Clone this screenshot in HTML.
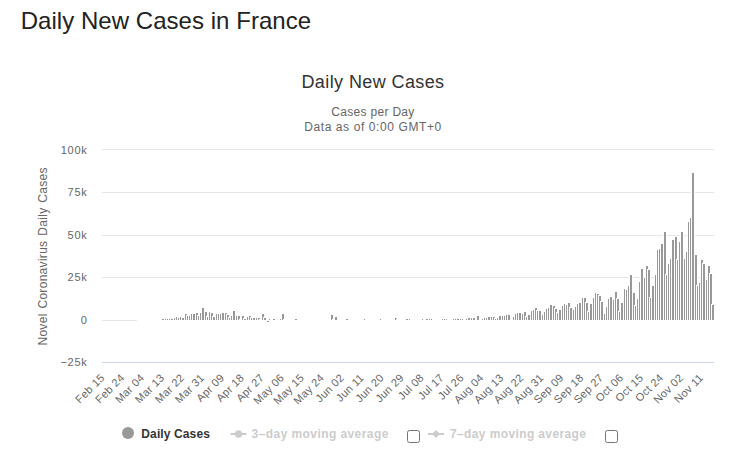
<!DOCTYPE html>
<html><head><meta charset="utf-8"><style>
html,body{margin:0;padding:0;background:#fff;width:740px;height:476px;overflow:hidden}
svg{position:absolute;left:0;top:0}
text{font-family:"Liberation Sans",sans-serif}
</style></head><body>
<svg width="740" height="476" viewBox="0 0 740 476">
<text x="20.7" y="28.9" font-size="24" fill="#222" letter-spacing="0.04">Daily New Cases in France</text>
<text x="373" y="87.7" font-size="18" fill="#333" text-anchor="middle" letter-spacing="0.4">Daily New Cases</text>
<text x="373" y="116.2" font-size="12" fill="#666" text-anchor="middle" letter-spacing="0.3">Cases per Day</text>
<text x="373" y="130.5" font-size="12" fill="#666" text-anchor="middle" letter-spacing="0.6">Data as of 0:00 GMT+0</text>
<g shape-rendering="crispEdges">
<rect x="102" y="149" width="612" height="1" fill="#e6e6e6"/><rect x="102" y="192" width="612" height="1" fill="#e6e6e6"/><rect x="102" y="235" width="612" height="1" fill="#e6e6e6"/><rect x="102" y="277" width="612" height="1" fill="#e6e6e6"/><rect x="102" y="320" width="612" height="1" fill="#e6e6e6"/><rect x="102" y="362" width="612" height="1" fill="#ccd6eb"/>
<rect x="137" y="319" width="4" height="2" fill="#fff"/><rect x="139" y="319" width="4" height="2" fill="#fff"/><rect x="141" y="319" width="4" height="2" fill="#fff"/><rect x="144" y="319" width="4" height="2" fill="#fff"/><rect x="146" y="319" width="4" height="2" fill="#fff"/><rect x="148" y="319" width="4" height="2" fill="#fff"/><rect x="150" y="319" width="4" height="2" fill="#fff"/><rect x="153" y="319" width="4" height="2" fill="#fff"/><rect x="155" y="319" width="4" height="2" fill="#fff"/><rect x="157" y="319" width="4" height="2" fill="#fff"/><rect x="159" y="319" width="4" height="2" fill="#fff"/><rect x="161" y="318" width="4" height="3" fill="#fff"/><rect x="162" y="319" width="2" height="1" fill="#999999"/><rect x="164" y="318" width="4" height="3" fill="#fff"/><rect x="165" y="319" width="2" height="1" fill="#999999"/><rect x="166" y="318" width="4" height="3" fill="#fff"/><rect x="167" y="319" width="2" height="1" fill="#999999"/><rect x="168" y="318" width="4" height="3" fill="#fff"/><rect x="169" y="319" width="2" height="1" fill="#999999"/><rect x="170" y="318" width="4" height="3" fill="#fff"/><rect x="171" y="319" width="2" height="1" fill="#999999"/><rect x="173" y="317" width="4" height="4" fill="#fff"/><rect x="174" y="318" width="2" height="2" fill="#999999"/><rect x="175" y="316" width="4" height="5" fill="#fff"/><rect x="176" y="317" width="2" height="3" fill="#999999"/><rect x="177" y="317" width="4" height="4" fill="#fff"/><rect x="178" y="318" width="2" height="2" fill="#999999"/><rect x="179" y="316" width="4" height="5" fill="#fff"/><rect x="180" y="317" width="2" height="3" fill="#999999"/><rect x="181" y="317" width="4" height="4" fill="#fff"/><rect x="182" y="318" width="2" height="2" fill="#999999"/><rect x="184" y="313" width="4" height="8" fill="#fff"/><rect x="185" y="314" width="2" height="6" fill="#999999"/><rect x="186" y="315" width="4" height="6" fill="#fff"/><rect x="187" y="316" width="2" height="4" fill="#999999"/><rect x="188" y="315" width="4" height="6" fill="#fff"/><rect x="189" y="316" width="2" height="4" fill="#999999"/><rect x="190" y="313" width="4" height="8" fill="#fff"/><rect x="191" y="314" width="2" height="6" fill="#999999"/><rect x="192" y="313" width="4" height="8" fill="#fff"/><rect x="193" y="314" width="2" height="6" fill="#999999"/><rect x="195" y="312" width="4" height="9" fill="#fff"/><rect x="196" y="313" width="2" height="7" fill="#999999"/><rect x="197" y="315" width="4" height="6" fill="#fff"/><rect x="198" y="316" width="2" height="4" fill="#999999"/><rect x="199" y="312" width="4" height="9" fill="#fff"/><rect x="200" y="313" width="2" height="7" fill="#999999"/><rect x="201" y="307" width="4" height="14" fill="#fff"/><rect x="202" y="308" width="2" height="12" fill="#999999"/><rect x="204" y="311" width="4" height="10" fill="#fff"/><rect x="205" y="312" width="2" height="8" fill="#999999"/><rect x="206" y="316" width="4" height="5" fill="#fff"/><rect x="207" y="317" width="2" height="3" fill="#999999"/><rect x="208" y="311" width="4" height="10" fill="#fff"/><rect x="209" y="312" width="2" height="8" fill="#999999"/><rect x="210" y="312" width="4" height="9" fill="#fff"/><rect x="211" y="313" width="2" height="7" fill="#999999"/><rect x="212" y="316" width="4" height="5" fill="#fff"/><rect x="213" y="317" width="2" height="3" fill="#999999"/><rect x="215" y="313" width="4" height="8" fill="#fff"/><rect x="216" y="314" width="2" height="6" fill="#999999"/><rect x="217" y="313" width="4" height="8" fill="#fff"/><rect x="218" y="314" width="2" height="6" fill="#999999"/><rect x="219" y="313" width="4" height="8" fill="#fff"/><rect x="220" y="314" width="2" height="6" fill="#999999"/><rect x="221" y="312" width="4" height="9" fill="#fff"/><rect x="222" y="313" width="2" height="7" fill="#999999"/><rect x="224" y="312" width="4" height="9" fill="#fff"/><rect x="225" y="313" width="2" height="7" fill="#999999"/><rect x="226" y="314" width="4" height="7" fill="#fff"/><rect x="227" y="315" width="2" height="5" fill="#999999"/><rect x="228" y="317" width="4" height="4" fill="#fff"/><rect x="229" y="318" width="2" height="2" fill="#999999"/><rect x="230" y="315" width="4" height="6" fill="#fff"/><rect x="231" y="316" width="2" height="4" fill="#999999"/><rect x="232" y="310" width="4" height="11" fill="#fff"/><rect x="233" y="311" width="2" height="9" fill="#999999"/><rect x="235" y="315" width="4" height="6" fill="#fff"/><rect x="236" y="316" width="2" height="4" fill="#999999"/><rect x="237" y="315" width="4" height="6" fill="#fff"/><rect x="238" y="316" width="2" height="4" fill="#999999"/><rect x="239" y="319" width="4" height="2" fill="#fff"/><rect x="241" y="315" width="4" height="6" fill="#fff"/><rect x="242" y="316" width="2" height="4" fill="#999999"/><rect x="243" y="318" width="4" height="3" fill="#fff"/><rect x="244" y="319" width="2" height="1" fill="#999999"/><rect x="246" y="316" width="4" height="5" fill="#fff"/><rect x="247" y="317" width="2" height="3" fill="#999999"/><rect x="248" y="315" width="4" height="6" fill="#fff"/><rect x="249" y="316" width="2" height="4" fill="#999999"/><rect x="250" y="317" width="4" height="4" fill="#fff"/><rect x="251" y="318" width="2" height="2" fill="#999999"/><rect x="252" y="317" width="4" height="4" fill="#fff"/><rect x="253" y="318" width="2" height="2" fill="#999999"/><rect x="255" y="317" width="4" height="4" fill="#fff"/><rect x="256" y="318" width="2" height="2" fill="#999999"/><rect x="257" y="317" width="4" height="4" fill="#fff"/><rect x="258" y="318" width="2" height="2" fill="#999999"/><rect x="259" y="319" width="4" height="2" fill="#fff"/><rect x="261" y="313" width="4" height="8" fill="#fff"/><rect x="262" y="314" width="2" height="6" fill="#999999"/><rect x="263" y="317" width="4" height="4" fill="#fff"/><rect x="264" y="318" width="2" height="2" fill="#999999"/><rect x="266" y="320" width="4" height="3" fill="#fff"/><rect x="267" y="321" width="2" height="1" fill="#999999"/><rect x="268" y="318" width="4" height="3" fill="#fff"/><rect x="269" y="319" width="2" height="1" fill="#999999"/><rect x="270" y="319" width="4" height="2" fill="#fff"/><rect x="272" y="318" width="4" height="3" fill="#fff"/><rect x="273" y="319" width="2" height="1" fill="#999999"/><rect x="275" y="319" width="4" height="2" fill="#fff"/><rect x="277" y="319" width="4" height="2" fill="#fff"/><rect x="279" y="318" width="4" height="3" fill="#fff"/><rect x="280" y="319" width="2" height="1" fill="#999999"/><rect x="281" y="313" width="4" height="8" fill="#fff"/><rect x="282" y="314" width="2" height="6" fill="#999999"/><rect x="283" y="319" width="4" height="2" fill="#fff"/><rect x="286" y="319" width="4" height="2" fill="#fff"/><rect x="288" y="319" width="4" height="2" fill="#fff"/><rect x="290" y="319" width="4" height="2" fill="#fff"/><rect x="292" y="319" width="4" height="2" fill="#fff"/><rect x="294" y="318" width="4" height="3" fill="#fff"/><rect x="295" y="319" width="2" height="1" fill="#999999"/><rect x="297" y="319" width="4" height="2" fill="#fff"/><rect x="299" y="319" width="4" height="2" fill="#fff"/><rect x="301" y="319" width="4" height="2" fill="#fff"/><rect x="303" y="319" width="4" height="2" fill="#fff"/><rect x="306" y="319" width="4" height="2" fill="#fff"/><rect x="308" y="319" width="4" height="2" fill="#fff"/><rect x="310" y="319" width="4" height="2" fill="#fff"/><rect x="312" y="319" width="4" height="2" fill="#fff"/><rect x="314" y="319" width="4" height="2" fill="#fff"/><rect x="317" y="319" width="4" height="2" fill="#fff"/><rect x="319" y="319" width="4" height="2" fill="#fff"/><rect x="321" y="319" width="4" height="2" fill="#fff"/><rect x="323" y="319" width="4" height="2" fill="#fff"/><rect x="326" y="319" width="4" height="2" fill="#fff"/><rect x="328" y="319" width="4" height="2" fill="#fff"/><rect x="330" y="314" width="4" height="7" fill="#fff"/><rect x="331" y="315" width="2" height="5" fill="#999999"/><rect x="332" y="319" width="4" height="2" fill="#fff"/><rect x="334" y="316" width="4" height="5" fill="#fff"/><rect x="335" y="317" width="2" height="3" fill="#999999"/><rect x="337" y="319" width="4" height="2" fill="#fff"/><rect x="339" y="319" width="4" height="2" fill="#fff"/><rect x="341" y="319" width="4" height="2" fill="#fff"/><rect x="343" y="319" width="4" height="2" fill="#fff"/><rect x="345" y="318" width="4" height="3" fill="#fff"/><rect x="346" y="319" width="2" height="1" fill="#999999"/><rect x="348" y="319" width="4" height="2" fill="#fff"/><rect x="350" y="319" width="4" height="2" fill="#fff"/><rect x="352" y="319" width="4" height="2" fill="#fff"/><rect x="354" y="319" width="4" height="2" fill="#fff"/><rect x="357" y="319" width="4" height="2" fill="#fff"/><rect x="359" y="319" width="4" height="2" fill="#fff"/><rect x="361" y="319" width="4" height="2" fill="#fff"/><rect x="363" y="318" width="4" height="3" fill="#fff"/><rect x="364" y="319" width="2" height="1" fill="#999999"/><rect x="365" y="319" width="4" height="2" fill="#fff"/><rect x="368" y="319" width="4" height="2" fill="#fff"/><rect x="370" y="319" width="4" height="2" fill="#fff"/><rect x="372" y="319" width="4" height="2" fill="#fff"/><rect x="374" y="319" width="4" height="2" fill="#fff"/><rect x="377" y="319" width="4" height="2" fill="#fff"/><rect x="379" y="318" width="4" height="3" fill="#fff"/><rect x="380" y="319" width="2" height="1" fill="#999999"/><rect x="381" y="319" width="4" height="2" fill="#fff"/><rect x="383" y="319" width="4" height="2" fill="#fff"/><rect x="385" y="319" width="4" height="2" fill="#fff"/><rect x="388" y="319" width="4" height="2" fill="#fff"/><rect x="390" y="319" width="4" height="2" fill="#fff"/><rect x="392" y="319" width="4" height="2" fill="#fff"/><rect x="394" y="317" width="4" height="4" fill="#fff"/><rect x="395" y="318" width="2" height="2" fill="#999999"/><rect x="396" y="319" width="4" height="2" fill="#fff"/><rect x="399" y="319" width="4" height="2" fill="#fff"/><rect x="401" y="319" width="4" height="2" fill="#fff"/><rect x="403" y="319" width="4" height="2" fill="#fff"/><rect x="405" y="318" width="4" height="3" fill="#fff"/><rect x="406" y="319" width="2" height="1" fill="#999999"/><rect x="408" y="318" width="4" height="3" fill="#fff"/><rect x="409" y="319" width="2" height="1" fill="#999999"/><rect x="410" y="319" width="4" height="2" fill="#fff"/><rect x="412" y="319" width="4" height="2" fill="#fff"/><rect x="414" y="319" width="4" height="2" fill="#fff"/><rect x="416" y="319" width="4" height="2" fill="#fff"/><rect x="419" y="319" width="4" height="2" fill="#fff"/><rect x="421" y="318" width="4" height="3" fill="#fff"/><rect x="422" y="319" width="2" height="1" fill="#999999"/><rect x="423" y="319" width="4" height="2" fill="#fff"/><rect x="425" y="318" width="4" height="3" fill="#fff"/><rect x="426" y="319" width="2" height="1" fill="#999999"/><rect x="428" y="318" width="4" height="3" fill="#fff"/><rect x="429" y="319" width="2" height="1" fill="#999999"/><rect x="430" y="318" width="4" height="3" fill="#fff"/><rect x="431" y="319" width="2" height="1" fill="#999999"/><rect x="432" y="319" width="4" height="2" fill="#fff"/><rect x="434" y="319" width="4" height="2" fill="#fff"/><rect x="436" y="319" width="4" height="2" fill="#fff"/><rect x="439" y="319" width="4" height="2" fill="#fff"/><rect x="441" y="318" width="4" height="3" fill="#fff"/><rect x="442" y="319" width="2" height="1" fill="#999999"/><rect x="443" y="318" width="4" height="3" fill="#fff"/><rect x="444" y="319" width="2" height="1" fill="#999999"/><rect x="445" y="318" width="4" height="3" fill="#fff"/><rect x="446" y="319" width="2" height="1" fill="#999999"/><rect x="447" y="319" width="4" height="2" fill="#fff"/><rect x="450" y="319" width="4" height="2" fill="#fff"/><rect x="452" y="318" width="4" height="3" fill="#fff"/><rect x="453" y="319" width="2" height="1" fill="#999999"/><rect x="454" y="318" width="4" height="3" fill="#fff"/><rect x="455" y="319" width="2" height="1" fill="#999999"/><rect x="456" y="318" width="4" height="3" fill="#fff"/><rect x="457" y="319" width="2" height="1" fill="#999999"/><rect x="459" y="318" width="4" height="3" fill="#fff"/><rect x="460" y="319" width="2" height="1" fill="#999999"/><rect x="461" y="318" width="4" height="3" fill="#fff"/><rect x="462" y="319" width="2" height="1" fill="#999999"/><rect x="463" y="319" width="4" height="2" fill="#fff"/><rect x="465" y="318" width="4" height="3" fill="#fff"/><rect x="466" y="319" width="2" height="1" fill="#999999"/><rect x="467" y="317" width="4" height="4" fill="#fff"/><rect x="468" y="318" width="2" height="2" fill="#999999"/><rect x="470" y="317" width="4" height="4" fill="#fff"/><rect x="471" y="318" width="2" height="2" fill="#999999"/><rect x="472" y="317" width="4" height="4" fill="#fff"/><rect x="473" y="318" width="2" height="2" fill="#999999"/><rect x="476" y="315" width="4" height="6" fill="#fff"/><rect x="477" y="316" width="2" height="4" fill="#999999"/><rect x="479" y="319" width="4" height="2" fill="#fff"/><rect x="481" y="318" width="4" height="3" fill="#fff"/><rect x="482" y="319" width="2" height="1" fill="#999999"/><rect x="483" y="317" width="4" height="4" fill="#fff"/><rect x="484" y="318" width="2" height="2" fill="#999999"/><rect x="485" y="317" width="4" height="4" fill="#fff"/><rect x="486" y="318" width="2" height="2" fill="#999999"/><rect x="487" y="316" width="4" height="5" fill="#fff"/><rect x="488" y="317" width="2" height="3" fill="#999999"/><rect x="490" y="316" width="4" height="5" fill="#fff"/><rect x="491" y="317" width="2" height="3" fill="#999999"/><rect x="492" y="316" width="4" height="5" fill="#fff"/><rect x="493" y="317" width="2" height="3" fill="#999999"/><rect x="494" y="318" width="4" height="3" fill="#fff"/><rect x="495" y="319" width="2" height="1" fill="#999999"/><rect x="496" y="317" width="4" height="4" fill="#fff"/><rect x="497" y="318" width="2" height="2" fill="#999999"/><rect x="498" y="315" width="4" height="6" fill="#fff"/><rect x="499" y="316" width="2" height="4" fill="#999999"/><rect x="501" y="315" width="4" height="6" fill="#fff"/><rect x="502" y="316" width="2" height="4" fill="#999999"/><rect x="503" y="315" width="4" height="6" fill="#fff"/><rect x="504" y="316" width="2" height="4" fill="#999999"/><rect x="505" y="314" width="4" height="7" fill="#fff"/><rect x="506" y="315" width="2" height="5" fill="#999999"/><rect x="507" y="314" width="4" height="7" fill="#fff"/><rect x="508" y="315" width="2" height="5" fill="#999999"/><rect x="510" y="319" width="4" height="2" fill="#fff"/><rect x="512" y="316" width="4" height="5" fill="#fff"/><rect x="513" y="317" width="2" height="3" fill="#999999"/><rect x="514" y="313" width="4" height="8" fill="#fff"/><rect x="515" y="314" width="2" height="6" fill="#999999"/><rect x="516" y="312" width="4" height="9" fill="#fff"/><rect x="517" y="313" width="2" height="7" fill="#999999"/><rect x="518" y="312" width="4" height="9" fill="#fff"/><rect x="519" y="313" width="2" height="7" fill="#999999"/><rect x="521" y="313" width="4" height="8" fill="#fff"/><rect x="522" y="314" width="2" height="6" fill="#999999"/><rect x="523" y="311" width="4" height="10" fill="#fff"/><rect x="524" y="312" width="2" height="8" fill="#999999"/><rect x="525" y="316" width="4" height="5" fill="#fff"/><rect x="526" y="317" width="2" height="3" fill="#999999"/><rect x="527" y="314" width="4" height="7" fill="#fff"/><rect x="528" y="315" width="2" height="5" fill="#999999"/><rect x="530" y="310" width="4" height="11" fill="#fff"/><rect x="531" y="311" width="2" height="9" fill="#999999"/><rect x="532" y="309" width="4" height="12" fill="#fff"/><rect x="533" y="310" width="2" height="10" fill="#999999"/><rect x="534" y="307" width="4" height="14" fill="#fff"/><rect x="535" y="308" width="2" height="12" fill="#999999"/><rect x="536" y="310" width="4" height="11" fill="#fff"/><rect x="537" y="311" width="2" height="9" fill="#999999"/><rect x="538" y="310" width="4" height="11" fill="#fff"/><rect x="539" y="311" width="2" height="9" fill="#999999"/><rect x="541" y="314" width="4" height="7" fill="#fff"/><rect x="542" y="315" width="2" height="5" fill="#999999"/><rect x="543" y="311" width="4" height="10" fill="#fff"/><rect x="544" y="312" width="2" height="8" fill="#999999"/><rect x="545" y="308" width="4" height="13" fill="#fff"/><rect x="546" y="309" width="2" height="11" fill="#999999"/><rect x="547" y="307" width="4" height="14" fill="#fff"/><rect x="548" y="308" width="2" height="12" fill="#999999"/><rect x="549" y="304" width="4" height="17" fill="#fff"/><rect x="550" y="305" width="2" height="15" fill="#999999"/><rect x="552" y="305" width="4" height="16" fill="#fff"/><rect x="553" y="306" width="2" height="14" fill="#999999"/><rect x="554" y="308" width="4" height="13" fill="#fff"/><rect x="555" y="309" width="2" height="11" fill="#999999"/><rect x="556" y="312" width="4" height="9" fill="#fff"/><rect x="557" y="313" width="2" height="7" fill="#999999"/><rect x="558" y="309" width="4" height="12" fill="#fff"/><rect x="559" y="310" width="2" height="10" fill="#999999"/><rect x="561" y="305" width="4" height="16" fill="#fff"/><rect x="562" y="306" width="2" height="14" fill="#999999"/><rect x="563" y="303" width="4" height="18" fill="#fff"/><rect x="564" y="304" width="2" height="16" fill="#999999"/><rect x="565" y="304" width="4" height="17" fill="#fff"/><rect x="566" y="305" width="2" height="15" fill="#999999"/><rect x="567" y="302" width="4" height="19" fill="#fff"/><rect x="568" y="303" width="2" height="17" fill="#999999"/><rect x="569" y="307" width="4" height="14" fill="#fff"/><rect x="570" y="308" width="2" height="12" fill="#999999"/><rect x="572" y="309" width="4" height="12" fill="#fff"/><rect x="573" y="310" width="2" height="10" fill="#999999"/><rect x="574" y="306" width="4" height="15" fill="#fff"/><rect x="575" y="307" width="2" height="13" fill="#999999"/><rect x="576" y="303" width="4" height="18" fill="#fff"/><rect x="577" y="304" width="2" height="16" fill="#999999"/><rect x="578" y="302" width="4" height="19" fill="#fff"/><rect x="579" y="303" width="2" height="17" fill="#999999"/><rect x="581" y="297" width="4" height="24" fill="#fff"/><rect x="582" y="298" width="2" height="22" fill="#999999"/><rect x="583" y="297" width="4" height="24" fill="#fff"/><rect x="584" y="298" width="2" height="22" fill="#999999"/><rect x="585" y="302" width="4" height="19" fill="#fff"/><rect x="586" y="303" width="2" height="17" fill="#999999"/><rect x="587" y="311" width="4" height="10" fill="#fff"/><rect x="588" y="312" width="2" height="8" fill="#999999"/><rect x="589" y="303" width="4" height="18" fill="#fff"/><rect x="590" y="304" width="2" height="16" fill="#999999"/><rect x="592" y="297" width="4" height="24" fill="#fff"/><rect x="593" y="298" width="2" height="22" fill="#999999"/><rect x="594" y="292" width="4" height="29" fill="#fff"/><rect x="595" y="293" width="2" height="27" fill="#999999"/><rect x="596" y="293" width="4" height="28" fill="#fff"/><rect x="597" y="294" width="2" height="26" fill="#999999"/><rect x="598" y="295" width="4" height="26" fill="#fff"/><rect x="599" y="296" width="2" height="24" fill="#999999"/><rect x="600" y="301" width="4" height="20" fill="#fff"/><rect x="601" y="302" width="2" height="18" fill="#999999"/><rect x="603" y="313" width="4" height="8" fill="#fff"/><rect x="604" y="314" width="2" height="6" fill="#999999"/><rect x="605" y="306" width="4" height="15" fill="#fff"/><rect x="606" y="307" width="2" height="13" fill="#999999"/><rect x="607" y="298" width="4" height="23" fill="#fff"/><rect x="608" y="299" width="2" height="21" fill="#999999"/><rect x="609" y="296" width="4" height="25" fill="#fff"/><rect x="610" y="297" width="2" height="23" fill="#999999"/><rect x="612" y="299" width="4" height="22" fill="#fff"/><rect x="613" y="300" width="2" height="20" fill="#999999"/><rect x="614" y="291" width="4" height="30" fill="#fff"/><rect x="615" y="292" width="2" height="28" fill="#999999"/><rect x="616" y="298" width="4" height="23" fill="#fff"/><rect x="617" y="299" width="2" height="21" fill="#999999"/><rect x="618" y="311" width="4" height="10" fill="#fff"/><rect x="619" y="312" width="2" height="8" fill="#999999"/><rect x="620" y="302" width="4" height="19" fill="#fff"/><rect x="621" y="303" width="2" height="17" fill="#999999"/><rect x="623" y="288" width="4" height="33" fill="#fff"/><rect x="624" y="289" width="2" height="31" fill="#999999"/><rect x="625" y="289" width="4" height="32" fill="#fff"/><rect x="626" y="290" width="2" height="30" fill="#999999"/><rect x="627" y="285" width="4" height="36" fill="#fff"/><rect x="628" y="286" width="2" height="34" fill="#999999"/><rect x="629" y="274" width="4" height="47" fill="#fff"/><rect x="630" y="275" width="2" height="45" fill="#999999"/><rect x="632" y="292" width="4" height="29" fill="#fff"/><rect x="633" y="293" width="2" height="27" fill="#999999"/><rect x="634" y="305" width="4" height="16" fill="#fff"/><rect x="635" y="306" width="2" height="14" fill="#999999"/><rect x="636" y="298" width="4" height="23" fill="#fff"/><rect x="637" y="299" width="2" height="21" fill="#999999"/><rect x="638" y="281" width="4" height="40" fill="#fff"/><rect x="639" y="282" width="2" height="38" fill="#999999"/><rect x="640" y="268" width="4" height="53" fill="#fff"/><rect x="641" y="269" width="2" height="51" fill="#999999"/><rect x="643" y="277" width="4" height="44" fill="#fff"/><rect x="644" y="278" width="2" height="42" fill="#999999"/><rect x="645" y="265" width="4" height="56" fill="#fff"/><rect x="646" y="266" width="2" height="54" fill="#999999"/><rect x="647" y="269" width="4" height="52" fill="#fff"/><rect x="648" y="270" width="2" height="50" fill="#999999"/><rect x="649" y="297" width="4" height="24" fill="#fff"/><rect x="650" y="298" width="2" height="22" fill="#999999"/><rect x="651" y="285" width="4" height="36" fill="#fff"/><rect x="652" y="286" width="2" height="34" fill="#999999"/><rect x="654" y="274" width="4" height="47" fill="#fff"/><rect x="655" y="275" width="2" height="45" fill="#999999"/><rect x="656" y="249" width="4" height="72" fill="#fff"/><rect x="657" y="250" width="2" height="70" fill="#999999"/><rect x="658" y="248" width="4" height="73" fill="#fff"/><rect x="659" y="249" width="2" height="71" fill="#999999"/><rect x="660" y="243" width="4" height="78" fill="#fff"/><rect x="661" y="244" width="2" height="76" fill="#999999"/><rect x="663" y="231" width="4" height="90" fill="#fff"/><rect x="664" y="232" width="2" height="88" fill="#999999"/><rect x="665" y="274" width="4" height="47" fill="#fff"/><rect x="666" y="275" width="2" height="45" fill="#999999"/><rect x="667" y="263" width="4" height="58" fill="#fff"/><rect x="668" y="264" width="2" height="56" fill="#999999"/><rect x="669" y="258" width="4" height="63" fill="#fff"/><rect x="670" y="259" width="2" height="61" fill="#999999"/><rect x="671" y="239" width="4" height="82" fill="#fff"/><rect x="672" y="240" width="2" height="80" fill="#999999"/><rect x="674" y="236" width="4" height="85" fill="#fff"/><rect x="675" y="237" width="2" height="83" fill="#999999"/><rect x="676" y="259" width="4" height="62" fill="#fff"/><rect x="677" y="260" width="2" height="60" fill="#999999"/><rect x="678" y="241" width="4" height="80" fill="#fff"/><rect x="679" y="242" width="2" height="78" fill="#999999"/><rect x="680" y="231" width="4" height="90" fill="#fff"/><rect x="681" y="232" width="2" height="88" fill="#999999"/><rect x="683" y="258" width="4" height="63" fill="#fff"/><rect x="684" y="259" width="2" height="61" fill="#999999"/><rect x="685" y="251" width="4" height="70" fill="#fff"/><rect x="686" y="252" width="2" height="68" fill="#999999"/><rect x="687" y="221" width="4" height="100" fill="#fff"/><rect x="688" y="222" width="2" height="98" fill="#999999"/><rect x="689" y="217" width="4" height="104" fill="#fff"/><rect x="690" y="218" width="2" height="102" fill="#999999"/><rect x="691" y="172" width="4" height="149" fill="#fff"/><rect x="692" y="173" width="2" height="147" fill="#999999"/><rect x="694" y="254" width="4" height="67" fill="#fff"/><rect x="695" y="255" width="2" height="65" fill="#999999"/><rect x="696" y="285" width="4" height="36" fill="#fff"/><rect x="697" y="286" width="2" height="34" fill="#999999"/><rect x="698" y="282" width="4" height="39" fill="#fff"/><rect x="699" y="283" width="2" height="37" fill="#999999"/><rect x="700" y="259" width="4" height="62" fill="#fff"/><rect x="701" y="260" width="2" height="60" fill="#999999"/><rect x="702" y="263" width="4" height="58" fill="#fff"/><rect x="703" y="264" width="2" height="56" fill="#999999"/><rect x="705" y="279" width="4" height="42" fill="#fff"/><rect x="706" y="280" width="2" height="40" fill="#999999"/><rect x="707" y="265" width="4" height="56" fill="#fff"/><rect x="708" y="266" width="2" height="54" fill="#999999"/><rect x="709" y="273" width="4" height="48" fill="#fff"/><rect x="710" y="274" width="2" height="46" fill="#999999"/><rect x="711" y="304" width="4" height="17" fill="#fff"/><rect x="712" y="305" width="2" height="15" fill="#999999"/>
</g>
<g font-size="11" fill="#666" letter-spacing="0.75">
<text x="87.6" y="153.9" text-anchor="end">100k</text><text x="87.6" y="196.0" text-anchor="end">75k</text><text x="87.6" y="239.0" text-anchor="end">50k</text><text x="87.6" y="281.0" text-anchor="end">25k</text><text x="87.6" y="324.0" text-anchor="end">0</text><text x="87.6" y="366.0" text-anchor="end">−25k</text>
</g>
<text transform="translate(47,256.4) rotate(-90)" text-anchor="middle" font-size="12" fill="#666" letter-spacing="0.3" word-spacing="1.2">Novel Coronavirus Daily Cases</text>
<g font-size="11" fill="#666" letter-spacing="0.3">
<text text-anchor="end" transform="translate(105.21,378.4) rotate(-45)">Feb 15</text><text text-anchor="end" transform="translate(125.17,378.4) rotate(-45)">Feb 24</text><text text-anchor="end" transform="translate(145.12,378.4) rotate(-45)">Mar 04</text><text text-anchor="end" transform="translate(165.08,378.4) rotate(-45)">Mar 13</text><text text-anchor="end" transform="translate(185.03,378.4) rotate(-45)">Mar 22</text><text text-anchor="end" transform="translate(204.99,378.4) rotate(-45)">Mar 31</text><text text-anchor="end" transform="translate(224.95,378.4) rotate(-45)">Apr 09</text><text text-anchor="end" transform="translate(244.90,378.4) rotate(-45)">Apr 18</text><text text-anchor="end" transform="translate(264.86,378.4) rotate(-45)">Apr 27</text><text text-anchor="end" transform="translate(284.82,378.4) rotate(-45)">May 06</text><text text-anchor="end" transform="translate(304.77,378.4) rotate(-45)">May 15</text><text text-anchor="end" transform="translate(324.73,378.4) rotate(-45)">May 24</text><text text-anchor="end" transform="translate(344.69,378.4) rotate(-45)">Jun 02</text><text text-anchor="end" transform="translate(364.64,378.4) rotate(-45)">Jun 11</text><text text-anchor="end" transform="translate(384.60,378.4) rotate(-45)">Jun 20</text><text text-anchor="end" transform="translate(404.56,378.4) rotate(-45)">Jun 29</text><text text-anchor="end" transform="translate(424.51,378.4) rotate(-45)">Jul 08</text><text text-anchor="end" transform="translate(444.47,378.4) rotate(-45)">Jul 17</text><text text-anchor="end" transform="translate(464.43,378.4) rotate(-45)">Jul 26</text><text text-anchor="end" transform="translate(484.38,378.4) rotate(-45)">Aug 04</text><text text-anchor="end" transform="translate(504.34,378.4) rotate(-45)">Aug 13</text><text text-anchor="end" transform="translate(524.30,378.4) rotate(-45)">Aug 22</text><text text-anchor="end" transform="translate(544.25,378.4) rotate(-45)">Aug 31</text><text text-anchor="end" transform="translate(564.21,378.4) rotate(-45)">Sep 09</text><text text-anchor="end" transform="translate(584.17,378.4) rotate(-45)">Sep 18</text><text text-anchor="end" transform="translate(604.12,378.4) rotate(-45)">Sep 27</text><text text-anchor="end" transform="translate(624.08,378.4) rotate(-45)">Oct 06</text><text text-anchor="end" transform="translate(644.03,378.4) rotate(-45)">Oct 15</text><text text-anchor="end" transform="translate(663.99,378.4) rotate(-45)">Oct 24</text><text text-anchor="end" transform="translate(683.95,378.4) rotate(-45)">Nov 02</text><text text-anchor="end" transform="translate(703.90,378.4) rotate(-45)">Nov 11</text>
</g>
<g font-size="12" font-weight="bold">
<circle cx="128" cy="433.1" r="6" fill="#999"/>
<text x="141.3" y="437.6" fill="#333" letter-spacing="0.12">Daily Cases</text>
<rect x="230.5" y="433" width="16" height="2" fill="#ccc"/>
<circle cx="238.5" cy="434" r="3.7" fill="#ccc"/>
<text x="251.6" y="437.7" fill="#ccc" letter-spacing="0.42">3–day moving average</text>
<rect x="407.5" y="430.5" width="12" height="12" rx="2" fill="#fff" stroke="#767676" stroke-width="1"/>
<rect x="428" y="433" width="16" height="2" fill="#ccc"/>
<path d="M436 429.9 L440.1 434 L436 438.1 L431.9 434 Z" fill="#ccc"/>
<text x="450" y="437.7" fill="#ccc" letter-spacing="0.38">7–day moving average</text>
<rect x="605.5" y="430.5" width="12" height="12" rx="2" fill="#fff" stroke="#767676" stroke-width="1"/>
</g>
</svg>
</body></html>
